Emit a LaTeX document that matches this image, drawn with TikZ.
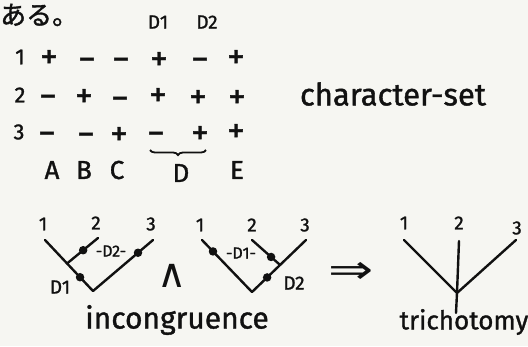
\documentclass[tikz,border=0pt]{standalone}
\usepackage{fontspec}
\setmainfont{Fira Sans}[FakeBold=1.2]
\newfontfamily\jpfont{Noto Sans CJK JP}[FakeBold=1.5]
\newfontfamily\symfont{DejaVu Sans}
\usetikzlibrary{calc,decorations.pathreplacing}
\definecolor{paper}{HTML}{F6F6F2}
\definecolor{ink}{HTML}{111111}
\tikzset{
  sgn/.style={text=ink,font=\fontsize{35}{35}\selectfont,inner sep=0pt,text height=22.5pt,text depth=0pt},
  mns/.style={sgn,yshift=-2.5pt},
  rowlab/.style={text=ink,font=\fontsize{22}{22}\selectfont,inner sep=0pt},
  collab/.style={text=ink,font=\fontsize{26}{26}\selectfont,inner sep=0pt},
  dlab/.style={text=ink,font=\fontsize{19}{19}\selectfont,inner sep=0pt},
  leaflab/.style={text=ink,font=\fontsize{19}{19}\selectfont,inner sep=0pt},
  word/.style={text=ink,font=\fontsize{30}{30}\selectfont,inner sep=0pt},
  branch/.style={draw=ink,line width=2.4pt,line cap=round,line join=round},
  dot/.style={circle,fill=ink,inner sep=0pt,minimum size=8.5pt}
}
\begin{document}
\begin{tikzpicture}[x=1pt,y=-1pt]
\fill[paper] (0,0) rectangle (528,346);
\useasboundingbox (0,0) rectangle (528,346);
% header
\node[text=ink,font=\jpfont\fontsize{26}{26}\selectfont,inner sep=0pt,anchor=west] (aru) at (0,15) {ある。};
\node[dlab] (hd1) at (158,22) {D1};
\node[dlab] (hd2) at (207,22) {D2};
% row labels
\node[rowlab] (r1) at (20,57) {1};
\node[rowlab] (r2) at (20,95) {2};
\node[rowlab] (r3) at (19,132) {3};
% row 1
\node[sgn] (a1) at (49,57) {+};
\node[mns] (b1) at (87,57) {−};
\node[mns] (c1) at (121,57) {−};
\node[sgn] (d11) at (159,59) {+};
\node[mns] (d21) at (200,57) {−};
\node[sgn] (e1) at (236,57) {+};
% row 2
\node[mns] (a2) at (48,94) {−};
\node[sgn] (b2) at (84,96) {+};
\node[mns] (c2) at (120,96) {−};
\node[sgn] (d12) at (158,95) {+};
\node[sgn] (d22) at (198,97) {+};
\node[sgn] (e2) at (237,97) {+};
% row 3
\node[mns] (a3) at (47,131) {−};
\node[mns] (b3) at (86,132) {−};
\node[sgn] (c3) at (119,134) {+};
\node[mns] (d13) at (156,131) {−};
\node[sgn] (d23) at (200,133) {+};
\node[sgn] (e3) at (236,131) {+};
% brace
\coordinate (bl) at (150,150);
\coordinate (br) at (206,150);
\draw[ink,line width=1.8pt,decorate,decoration={brace,mirror,amplitude=5pt}] (bl) -- (br);
% column labels
\node[collab] (cA) at (52,170) {A};
\node[collab] (cB) at (84,170) {B};
\node[collab] (cC) at (117,170) {C};
\node[collab] (cD) at (181,173) {D};
\node[collab] (cE) at (237,170) {E};
\node[word,font=\fontsize{31}{31}\selectfont] (cs) at (393,94) {character-set};
% left tree
\coordinate (L1) at (45,240);
\coordinate (L2) at (98,238);
\coordinate (L3) at (153,240);
\coordinate (Lr) at (93,291);
\coordinate (Lj) at ($(L1)!0.46!(Lr)$);
\draw[branch] (L1) -- (Lr) -- (L3);
\draw[branch] (L2) -- (Lj);
\node[dot] (ld2a) at ($(L2)!0.48!(Lj)$) {};
\node[dot] (ld2b) at ($(L3)!0.25!(Lr)$) {};
\node[dot] (ld1) at ($(L1)!0.73!(Lr)$) {};
\node[leaflab] (l1) at (43,224) {1};
\node[leaflab] (l2) at (96,223) {2};
\node[leaflab] (l3) at (151,224) {3};
\node[dlab,font=\fontsize{16}{16}\selectfont] (ld2) at (111,251) {-D2-};
\node[dlab] (ld1l) at (60,287) {D1};
% wedge
\node[text=ink,font=\symfont\fontsize{40}{40}\selectfont,inner sep=0pt] (wedge) at (172,276) {∧};
% middle tree
\coordinate (M1) at (202,240);
\coordinate (M2) at (252,240);
\coordinate (M3) at (306,240);
\coordinate (Mr) at (252,292);
\coordinate (Mj) at ($(M3)!0.48!(Mr)$);
\draw[branch] (M1) -- (Mr) -- (M3);
\draw[branch] (M2) -- (Mj);
\node[dot] (md1a) at ($(M1)!0.22!(Mr)$) {};
\node[dot] (md1b) at ($(M2)!0.68!(Mj)$) {};
\node[dot] (md2) at ($(M3)!0.72!(Mr)$) {};
\node[leaflab] (m1) at (200,225) {1};
\node[leaflab] (m2) at (252,225) {2};
\node[leaflab] (m3) at (305,225) {3};
\node[dlab,font=\fontsize{16}{16}\selectfont] (md1) at (241,253) {-D1-};
\node[dlab] (md2l) at (294,283) {D2};
% implies
\node[text=ink,font=\symfont\fontsize{40}{40}\selectfont,inner sep=0pt] (imp) at (351,273) {\scalebox{1.35}[1]{⇒}};
% right tree
\coordinate (R1) at (404,240);
\coordinate (R2) at (459,241);
\coordinate (R3) at (516,240);
\coordinate (Rc) at (457,293);
\coordinate (Rr) at (456,313);
\draw[branch] (R1) -- (Rc) -- (R3);
\draw[branch] (R2) -- (Rc) -- (Rr);
\node[leaflab] (t1) at (404,223) {1};
\node[leaflab] (t2) at (459,223) {2};
\node[leaflab] (t3) at (517,228) {3};
% captions
\node[word] (inc) at (177,320) {incongruence};
\node[word,font=\fontsize{26}{26}\selectfont] (tri) at (464,322) {trichotomy};
\end{tikzpicture}
\end{document}
